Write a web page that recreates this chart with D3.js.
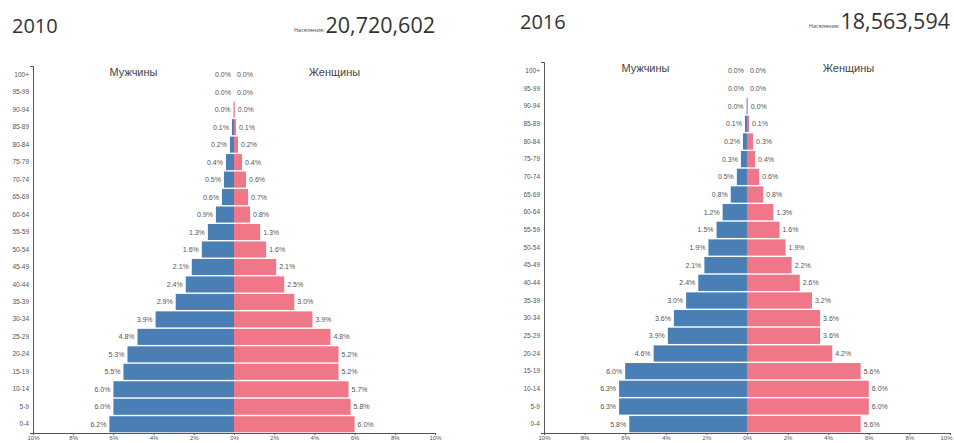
<!DOCTYPE html>
<html><head><meta charset="utf-8">
<script src="https://cdn.jsdelivr.net/npm/d3@7"></script>
<style>
body{margin:0;background:#fff;font-family:"Open Sans",Arial,sans-serif;}
svg{display:block}
</style></head>
<body>
<svg id="c" width="954" height="443"></svg>
<script>
const ageGroups = ["100+","95-99","90-94","85-89","80-84","75-79","70-74","65-69","60-64","55-59","50-54","45-49","40-44","35-39","30-34","25-29","20-24","15-19","10-14","5-9","0-4"];
const male2010   = [0.0,0.0,0.02,0.1,0.2,0.4,0.5,0.6,0.9,1.3,1.6,2.1,2.4,2.9,3.9,4.8,5.3,5.5,6.0,6.0,6.2];
const female2010 = [0.0,0.0,0.04,0.1,0.2,0.4,0.6,0.7,0.8,1.3,1.6,2.1,2.5,3.0,3.9,4.8,5.2,5.2,5.7,5.8,6.0];
const male2016   = [0.0,0.0,0.02,0.1,0.2,0.3,0.5,0.8,1.2,1.5,1.9,2.1,2.4,3.0,3.6,3.9,4.6,6.0,6.3,6.3,5.8];
const female2016 = [0.0,0.0,0.04,0.1,0.3,0.4,0.6,0.8,1.3,1.6,1.9,2.2,2.6,3.2,3.6,3.6,4.2,5.6,6.0,6.0,5.6];
const xTicks = [-10,-8,-6,-4,-2,0,2,4,6,8,10];
const years = ["2010","2016"];
const populations = ["20,720,602","18,563,594"];
const popLabel = "Население:";
const maleLabel = "Мужчины";
const femaleLabel = "Женщины";

const MALE = "#4a7fb5", FEMALE = "#ef7787";
const svg = d3.select("#c");
const fmt = v => d3.format(".1f")(v) + "%";

function pyramid(cfg, year, pop, male, female){
  const x = d3.scaleLinear().domain([-10,10]).range([cfg.x0, cfg.x1]);
  const y = d3.scaleBand().domain(ageGroups).range([cfg.y0, cfg.y1]).paddingInner(0.08).paddingOuter(0.04);
  const g = svg.append("g");

  // header
  g.append("text").attr("x", cfg.titleX).attr("y", cfg.titleY)
    .attr("font-size", 20).attr("fill","#333").text(year);
  const popT = g.append("text").attr("x", cfg.x1).attr("y", cfg.titleY)
    .attr("text-anchor","end").attr("font-size", 21.5).attr("fill","#333").text(pop);
  const w = popT.node().getComputedTextLength();
  g.append("text").attr("x", cfg.x1 - w - 1).attr("y", cfg.titleY - 1)
    .attr("text-anchor","end").attr("font-size", 5.5).attr("fill","#444").text(popLabel);

  // sex labels
  g.append("text").attr("x", (x(-10)+x(0))/2).attr("y", cfg.y0 + 10)
    .attr("text-anchor","middle").attr("font-size", 11).attr("fill","#444")
    .attr("font-family","Arial, Liberation Sans, sans-serif").text(maleLabel);
  g.append("text").attr("x", (x(0)+x(10))/2).attr("y", cfg.y0 + 10)
    .attr("text-anchor","middle").attr("font-size", 11).attr("fill","#444")
    .attr("font-family","Arial, Liberation Sans, sans-serif").text(femaleLabel);

  // bars
  g.selectAll(".m").data(ageGroups).join("rect")
    .attr("x", (d,i) => x(-male[i])).attr("width", (d,i) => x(0) - x(-male[i]))
    .attr("y", d => y(d)).attr("height", y.bandwidth()).attr("fill", MALE);
  g.selectAll(".f").data(ageGroups).join("rect")
    .attr("x", x(0)).attr("width", (d,i) => x(female[i]) - x(0))
    .attr("y", d => y(d)).attr("height", y.bandwidth()).attr("fill", FEMALE);

  // value labels
  g.selectAll(".ml").data(ageGroups).join("text")
    .attr("x", (d,i) => x(-male[i]) - 3).attr("y", d => y(d) + y.bandwidth()/2 + 2.5)
    .attr("text-anchor","end").attr("font-size", 7).attr("fill","#555")
    .attr("font-family","Arial, Liberation Sans, sans-serif")
    .text((d,i) => fmt(male[i]));
  g.selectAll(".fl").data(ageGroups).join("text")
    .attr("x", (d,i) => x(female[i]) + 3).attr("y", d => y(d) + y.bandwidth()/2 + 2.5)
    .attr("font-size", 7).attr("fill","#555")
    .attr("font-family","Arial, Liberation Sans, sans-serif")
    .text((d,i) => fmt(female[i]));

  // axes
  const ya = g.append("g").attr("transform", `translate(${cfg.x0},0)`)
    .call(d3.axisLeft(y).tickSizeInner(0).tickSizeOuter(3).tickPadding(4));
  ya.selectAll("text").attr("font-size", 6.5).attr("fill","#555")
    .attr("font-family","Arial, Liberation Sans, sans-serif");
  ya.select(".domain").attr("stroke","#555");

  const xa = g.append("g").attr("transform", `translate(0,${cfg.y1})`)
    .call(d3.axisBottom(x).tickValues(xTicks).tickSizeInner(2).tickSizeOuter(0).tickPadding(0.5)
      .tickFormat(v => Math.abs(v) + "%"));
  xa.selectAll("text").attr("font-size", 6).attr("fill","#555")
    .attr("font-family","Arial, Liberation Sans, sans-serif");
  xa.selectAll("line,.domain").attr("stroke","#555");
  if (cfg.x1 > 945) {
    xa.selectAll(".tick").filter(d => d === 10).select("text")
      .attr("text-anchor","end").attr("dx", 2);
  }
}

pyramid({x0:33, x1:435, y0:66, y1:433, titleX:12, titleY:33}, years[0], populations[0], male2010, female2010);
pyramid({x0:544, x1:950, y0:62, y1:433, titleX:520, titleY:29}, years[1], populations[1], male2016, female2016);
</script>
</body></html>
